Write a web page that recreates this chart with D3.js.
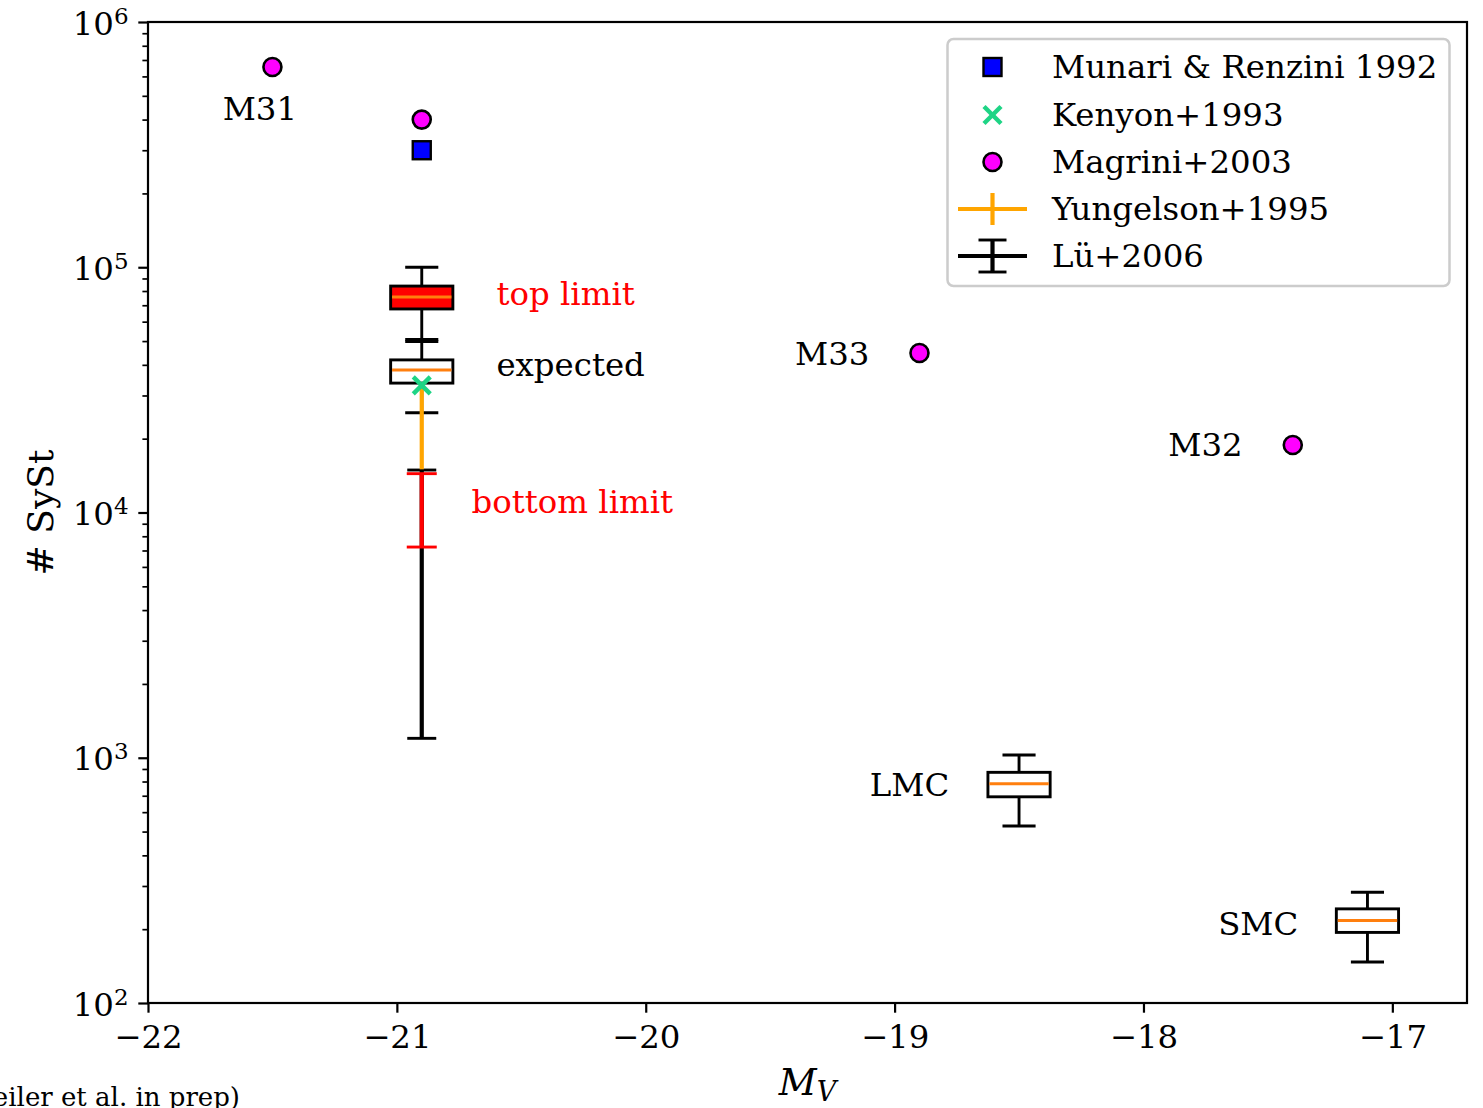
<!DOCTYPE html>
<html>
<head>
<meta charset="utf-8">
<script src="https://cdn.jsdelivr.net/npm/d3@7"></script>
<style>
  body { margin: 0; background: #fff; }
  svg { display: block; font-family: "DejaVu Serif", serif; }
</style>
</head>
<body>
<div id="chart"></div>
<script>
// --- data ---
var xDomain = [-22, -16.7];
var yDomain = [1e2, 1e6];
var xTicks = [-22, -21, -20, -19, -18, -17];
var yExponents = [2, 3, 4, 5, 6];

// box statistics: whisker low, q1, median, q3, whisker high
var boxStats = [
  {name: 'top', x: -20.9, whislo: 5.08e4, q1: 6.76e4, med: 7.56e4, q3: 8.38e4, whishi: 1.0e5},
  {name: 'expected', x: -20.9, whislo: 2.55e4, q1: 3.37e4, med: 3.81e4, q3: 4.19e4, whishi: 4.98e4},
  {name: 'LMC', x: -18.5, whislo: 527, q1: 693, med: 783, q3: 872, whishi: 1026},
  {name: 'SMC', x: -17.1, whislo: 147, q1: 194, med: 217, q3: 242, whishi: 283}
];

// vertical error ranges
var luRange = {x: -20.9, low: 1.2e3, high: 1.49e4};
var bottomLimitRange = {x: -20.9, low: 7.23e3, high: 1.44e4};
var yungelsonRange = {x: -20.9, low: 1.5e4, high: 3.35e4};

var munariPoints = [[-20.9, 3.0e5]];
var kenyonPoints = [[-20.9, 3.3e4]];
var magriniPoints = [[-21.5, 6.55e5], [-20.9, 4.0e5], [-18.9, 4.47e4], [-17.4, 1.885e4]];

// text annotations in data coordinates (left aligned, on baseline)
var annotations = [
  ['M31', -21.7, 4e5, 'black'],
  ['M33', -19.4, 4e4, 'black'],
  ['M32', -17.9, 1.7e4, 'black'],
  ['LMC', -19.1, 700, 'black'],
  ['SMC', -17.7, 190, 'black'],
  ['top limit', -20.6, 7e4, 'red'],
  ['expected', -20.6, 3.6e4, 'black'],
  ['bottom limit', -20.7, 1e4, 'red']
];

var legendLabels = ['Munari & Renzini 1992', 'Kenyon+1993', 'Magrini+2003', 'Yungelson+1995', 'L\u00fc+2006'];

// --- layout ---
var width = 1483, height = 1108;
var plot = {left: 148, top: 22, right: 1467, bottom: 1003};
var fontSize = 32.4;

var svg = d3.select('#chart').append('svg')
  .attr('width', width)
  .attr('height', height);

svg.append('rect').attr('width', width).attr('height', height).attr('fill', '#fff');

var x = d3.scaleLinear().domain(xDomain).range([plot.left, plot.right]);
var y = d3.scaleLog().domain(yDomain).range([plot.bottom, plot.top]);

var g = svg.append('g');

// boxes
var boxWidth = x(-20.9 + 0.125) - x(-20.9 - 0.125);
var capHalf = boxWidth / 4 + 1;
var boxFill = {top: '#ff0000', expected: '#ffffff', LMC: '#ffffff', SMC: '#ffffff'};

boxStats.forEach(function(b) {
  var cx = x(b.x);
  var bg = g.append('g').attr('fill', 'none').attr('stroke', '#000').attr('stroke-width', 2.9);
  bg.append('line').attr('x1', cx).attr('x2', cx).attr('y1', y(b.q3)).attr('y2', y(b.whishi));
  bg.append('line').attr('x1', cx).attr('x2', cx).attr('y1', y(b.q1)).attr('y2', y(b.whislo));
  bg.append('line').attr('x1', cx - capHalf).attr('x2', cx + capHalf).attr('y1', y(b.whishi)).attr('y2', y(b.whishi));
  bg.append('line').attr('x1', cx - capHalf).attr('x2', cx + capHalf).attr('y1', y(b.whislo)).attr('y2', y(b.whislo));
  bg.append('rect')
    .attr('x', cx - boxWidth / 2).attr('width', boxWidth)
    .attr('y', y(b.q3)).attr('height', y(b.q1) - y(b.q3))
    .attr('fill', boxFill[b.name]);
  bg.append('line')
    .attr('x1', cx - boxWidth / 2 + 1.4).attr('x2', cx + boxWidth / 2 - 1.4)
    .attr('y1', y(b.med)).attr('y2', y(b.med))
    .attr('stroke', '#ff7f0e');
});

function errorBar(r, color, cap) {
  var cx = x(r.x);
  var eg = g.append('g').attr('stroke', color).attr('stroke-width', 4.2);
  eg.append('line').attr('x1', cx).attr('x2', cx).attr('y1', y(r.low)).attr('y2', y(r.high));
  if (cap) {
    [r.low, r.high].forEach(function(v) {
      eg.append('line').attr('x1', cx - cap).attr('x2', cx + cap).attr('y1', y(v)).attr('y2', y(v))
        .attr('stroke-width', 2.9);
    });
  }
}

errorBar(luRange, '#000', 14.5);
errorBar(bottomLimitRange, '#ff0000', 15);
errorBar(yungelsonRange, '#ffa500', 0);

// markers
function square(sel, cx, cy) {
  sel.append('rect').attr('x', cx - 9).attr('y', cy - 9).attr('width', 18).attr('height', 18)
    .attr('fill', '#0000ff').attr('stroke', '#000').attr('stroke-width', 2.4);
}
function cross(sel, cx, cy) {
  var s = 8.5;
  var cg = sel.append('g').attr('stroke', '#1ed485').attr('stroke-width', 4.4);
  cg.append('line').attr('x1', cx - s).attr('y1', cy - s).attr('x2', cx + s).attr('y2', cy + s);
  cg.append('line').attr('x1', cx - s).attr('y1', cy + s).attr('x2', cx + s).attr('y2', cy - s);
}
function dot(sel, cx, cy) {
  sel.append('circle').attr('cx', cx).attr('cy', cy).attr('r', 9)
    .attr('fill', '#ff00ff').attr('stroke', '#000').attr('stroke-width', 2.6);
}

munariPoints.forEach(function(p) { square(g, x(p[0]), y(p[1])); });
kenyonPoints.forEach(function(p) { cross(g, x(p[0]), y(p[1])); });
magriniPoints.forEach(function(p) { dot(g, x(p[0]), y(p[1])); });

// annotations
g.selectAll('text.note')
  .data(annotations)
  .enter().append('text')
  .attr('class', 'note')
  .attr('x', function(d) { return x(d[1]); })
  .attr('y', function(d) { return y(d[2]); })
  .attr('fill', function(d) { return d[3]; })
  .style('font-size', fontSize + 'px')
  .text(function(d) { return d[0]; });

// axes
var xAxis = d3.axisBottom(x).tickValues(xTicks).tickSize(9.7).tickPadding(12)
  .tickFormat(function(d) { return d3.format('d')(d); });
var xAxisG = svg.append('g')
  .attr('transform', 'translate(0,' + plot.bottom + ')')
  .call(xAxis);
xAxisG.select('.domain').remove();
xAxisG.selectAll('line').attr('stroke-width', 2.2);
xAxisG.selectAll('text').style('font-size', fontSize + 'px').style('font-family', 'DejaVu Serif');

var majorY = yExponents.map(function(e) { return Math.pow(10, e); });
var minorY = [];
for (var e = 2; e < 6; e++) {
  for (var m = 2; m <= 9; m++) minorY.push(m * Math.pow(10, e));
}

var yMinor = svg.append('g')
  .attr('transform', 'translate(' + plot.left + ',0)')
  .call(d3.axisLeft(y).tickValues(minorY).tickSize(5.6).tickFormat(''));
yMinor.select('.domain').remove();
yMinor.selectAll('line').attr('stroke-width', 1.7);

var yMajor = svg.append('g')
  .attr('transform', 'translate(' + plot.left + ',0)')
  .call(d3.axisLeft(y).tickValues(majorY).tickSize(9.7).tickPadding(9.7).tickFormat(''));
yMajor.select('.domain').remove();
yMajor.selectAll('line').attr('stroke-width', 2.2);
yMajor.selectAll('.tick text').each(function(d) {
  var t = d3.select(this)
    .attr('dy', null)
    .attr('y', 12)
    .style('font-size', fontSize + 'px')
    .style('font-family', 'DejaVu Serif');
  t.append('tspan').text('10');
  t.append('tspan').attr('dy', -11).style('font-size', '23px').text(Math.round(Math.log10(d)));
});

// frame
svg.append('rect')
  .attr('x', plot.left).attr('y', plot.top)
  .attr('width', plot.right - plot.left).attr('height', plot.bottom - plot.top)
  .attr('fill', 'none').attr('stroke', '#000').attr('stroke-width', 2.2);

// axis titles
var xLabel = svg.append('text')
  .attr('x', (plot.left + plot.right) / 2)
  .attr('y', 1095)
  .attr('text-anchor', 'middle')
  .style('font-size', '37px')
  .style('font-style', 'italic');
xLabel.append('tspan').text('M');
xLabel.append('tspan').attr('dy', 6).style('font-size', '27px').text('V');

svg.append('text')
  .attr('transform', 'translate(53,' + ((plot.top + plot.bottom) / 2) + ') rotate(-90)')
  .attr('text-anchor', 'middle')
  .style('font-size', '36px')
  .text('# SySt');

// credit line, cut off at the left edge as in the original
svg.append('text')
  .attr('x', 240)
  .attr('y', 1106)
  .attr('text-anchor', 'end')
  .style('font-size', '26px')
  .text('(Weiler et al. in prep)');

// legend
var lg = svg.append('g');
lg.append('rect')
  .attr('x', 947.5).attr('y', 39).attr('width', 502).attr('height', 247)
  .attr('rx', 6).attr('fill', '#fff').attr('stroke', '#cccccc').attr('stroke-width', 2.5);

var rowY = [67, 115, 162, 209, 256];
var hx = 992.5, hx0 = 958, hx1 = 1027;

legendLabels.forEach(function(label, i) {
  var cy = rowY[i];
  if (i === 0) square(lg, hx, cy);
  if (i === 1) cross(lg, hx, cy);
  if (i === 2) dot(lg, hx, cy);
  if (i === 3) {
    var og = lg.append('g').attr('stroke', '#ffa500').attr('stroke-width', 4.2);
    og.append('line').attr('x1', hx0).attr('x2', hx1).attr('y1', cy).attr('y2', cy);
    og.append('line').attr('x1', hx).attr('x2', hx).attr('y1', cy - 16).attr('y2', cy + 16);
  }
  if (i === 4) {
    var bg = lg.append('g').attr('stroke', '#000').attr('stroke-width', 4.2);
    bg.append('line').attr('x1', hx0).attr('x2', hx1).attr('y1', cy).attr('y2', cy);
    bg.append('line').attr('x1', hx).attr('x2', hx).attr('y1', cy - 16).attr('y2', cy + 16);
    [cy - 16, cy + 16].forEach(function(v) {
      bg.append('line').attr('x1', hx - 14).attr('x2', hx + 14).attr('y1', v).attr('y2', v).attr('stroke-width', 2.9);
    });
  }
  lg.append('text')
    .attr('x', 1052)
    .attr('y', cy + 11)
    .style('font-size', fontSize + 'px')
    .text(label);
});
</script>
</body>
</html>
